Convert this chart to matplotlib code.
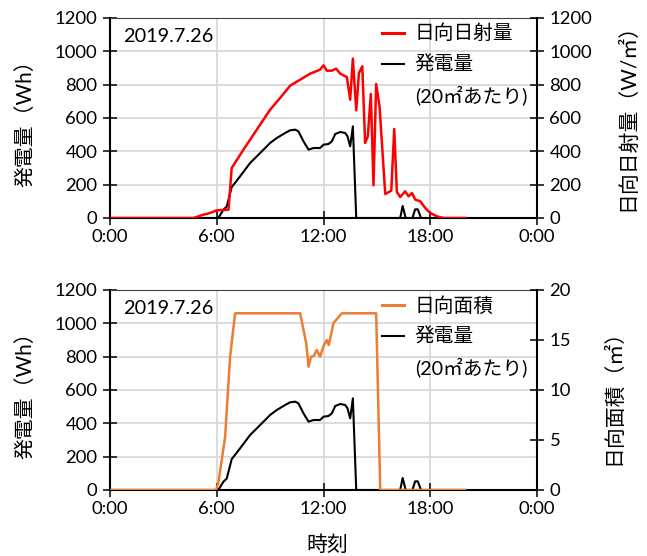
import matplotlib
matplotlib.use("Agg")
import matplotlib.pyplot as plt
from matplotlib.lines import Line2D

plt.rcParams['font.family'] = ['Lato', 'Noto Sans CJK JP', 'DejaVu Sans']

# ---- data (hours of day) ----
irr_t = [0, 4.69, 5.25, 5.625, 6.0, 6.66, 6.84, 7.5, 8.25, 9.0, 9.56, 10.125, 10.69, 11.25,
         11.81, 12.0, 12.19, 12.47, 12.71, 12.94, 13.31, 13.5, 13.65, 13.84, 13.99, 14.18,
         14.34, 14.49, 14.66, 14.81, 14.96, 15.15, 15.47, 15.81, 15.975, 16.125, 16.31,
         16.59, 16.78, 16.97, 17.16, 17.44, 17.72, 18.0, 18.375, 18.75, 19.97]
irr_v = [0, 0, 20, 30, 46, 50, 300, 410, 530, 650, 720, 794, 830, 866,
         890, 916, 884, 884, 896, 866, 846, 710, 956, 646, 870, 910,
         450, 490, 744, 196, 804, 670, 144, 164, 534, 156, 126,
         160, 130, 150, 110, 100, 60, 30, 10, 0, 0]

gen_t = [0, 6.09, 6.375, 6.56, 6.84, 7.31, 7.875, 8.44, 9.0, 9.375, 9.84, 10.125, 10.41,
         10.59, 10.875, 11.16, 11.44, 11.81, 12.0, 12.28, 12.47, 12.66, 12.94, 13.22,
         13.35, 13.5, 13.65, 13.84, 16.31, 16.45, 16.62, 17.0, 17.15, 17.3, 17.48, 19.97]
gen_v = [0, 0, 50, 68, 185, 250, 330, 390, 450, 480, 510, 526, 530,
         520, 460, 410, 420, 420, 440, 444, 460, 504, 516, 510,
         490, 430, 550, 0, 0, 72, 0, 0, 52, 52, 0, 0]

area_t = [0, 5.96, 6.09, 6.28, 6.47, 6.75, 7.03, 10.69, 10.875, 11.03, 11.16, 11.3, 11.45,
          11.62, 11.81, 12.0, 12.19, 12.3, 12.56, 13.03, 14.96, 15.19, 19.97]
area_v = [0, 0, 0.7, 3.0, 5.3, 13.3, 17.67, 17.67, 16.0, 14.67, 12.33, 13.33, 13.4,
          14.0, 13.33, 14.4, 15.0, 14.5, 16.7, 17.67, 17.67, 0, 0]

xtick_pos = [0, 6, 12, 18, 24]
xtick_labels = ["0:00", "6:00", "12:00", "18:00", "0:00"]
date_text = "2019.7.26"

W, H = 647, 556
fig = plt.figure(figsize=(W / 100, H / 100), dpi=100)

FS = 13.3
LFS = 14.2
TFS = 15
GRID = '#d9d9d9'
RED = '#ff0000'
ORANGE = '#ed7d31'


def style(ax, ax2):
    ax.set_xlim(0, 24)
    ax.set_ylim(0, 1200)
    ax.set_yticks(range(0, 1201, 200))
    ax.set_xticks(xtick_pos)
    ax.set_xticklabels(xtick_labels)
    ax.grid(True, color=GRID, lw=1.3)
    ax.set_axisbelow(True)
    for sp in ['left', 'bottom']:
        ax.spines[sp].set_linewidth(1.5)
        ax.spines[sp].set_color('black')
    ax.spines['top'].set_linewidth(0.8)
    ax.spines['top'].set_color('#404040')
    ax.spines['right'].set_visible(False)
    ax.tick_params(axis='both', direction='inout', length=10, width=1.1,
                   labelsize=FS, pad=4)
    ax.tick_params(axis='x', pad=3)
    ax2.spines['right'].set_linewidth(1.5)
    for sp in ['left', 'bottom', 'top']:
        ax2.spines[sp].set_visible(False)
    ax2.tick_params(axis='y', direction='inout', length=10, width=1.1,
                    labelsize=FS, pad=4)
    ax.text(0.03, 0.91, date_text, transform=ax.transAxes, fontsize=14.3,
            ha='left', va='center')


def legend(ax, color, label):
    handles = [Line2D([], [], color=color, lw=2.2),
               Line2D([], [], color='black', lw=1.5),
               Line2D([], [], color='none')]
    labels = [label, "発電量", "(20㎡あたり)"]
    ax.legend(handles, labels, loc='upper right', bbox_to_anchor=(1.0, 1.02),
              frameon=False, fontsize=LFS, handlelength=1.1, handletextpad=0.55,
              labelspacing=0.66, borderaxespad=0.1)


# ---- top chart ----
ax1 = fig.add_axes([110 / W, 1 - 218 / H, 427 / W, 200 / H])
ax1b = ax1.twinx()
ax1.plot(gen_t, gen_v, color='black', lw=1.5)
ax1b.plot(irr_t, irr_v, color=RED, lw=1.8)
ax1b.set_ylim(0, 1200)
ax1b.set_yticks(range(0, 1201, 200))
style(ax1, ax1b)
legend(ax1b, RED, "日向日射量")

# ---- bottom chart ----
ax2 = fig.add_axes([110 / W, 1 - 490 / H, 427 / W, 200 / H])
ax2b = ax2.twinx()
ax2.plot(gen_t, gen_v, color='black', lw=1.5)
ax2b.plot(area_t, area_v, color=ORANGE, lw=1.8)
ax2b.set_ylim(0, 20)
ax2b.set_yticks(range(0, 21, 5))
style(ax2, ax2b)
legend(ax2b, ORANGE, "日向面積")

# ---- axis titles ----
fig.text(25 / W, 1 - 118 / H, "発電量（Wh）", rotation=90, ha='center', va='center', fontsize=TFS)
fig.text(25 / W, 1 - 390 / H, "発電量（Wh）", rotation=90, ha='center', va='center', fontsize=TFS)
fig.text(627 / W, 1 - 112 / H, "日向日射量（W/㎡）", rotation=90, ha='center', va='center', fontsize=TFS)
fig.text(613 / W, 1 - 392 / H, "日向面積（㎡）", rotation=90, ha='center', va='center', fontsize=TFS)
fig.text(327 / W, 1 - 545 / H, "時刻", ha='center', va='center', fontsize=TFS)

fig.savefig("out.png", dpi=100)
